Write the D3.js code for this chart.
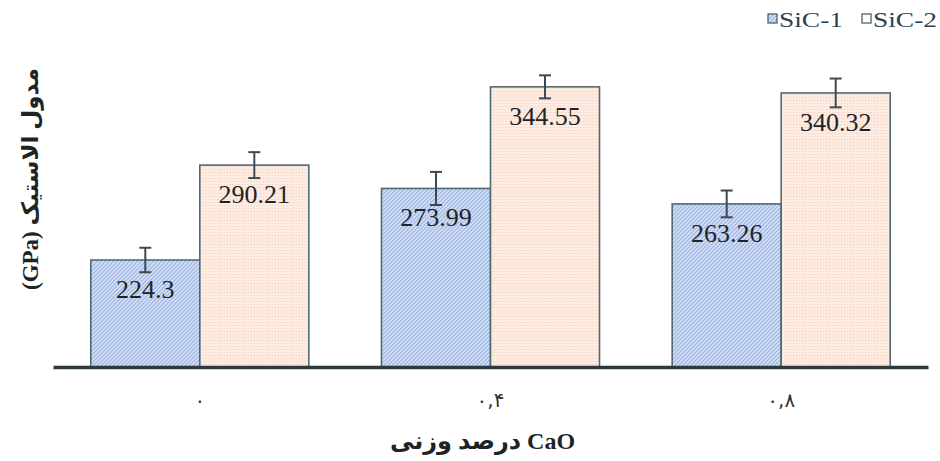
<!DOCTYPE html>
<html>
<head>
<meta charset="utf-8">
<script src="https://cdn.jsdelivr.net/npm/d3@7"></script>
<style>
  body { margin: 0; background: #fff; }
  svg { display: block; }
</style>
</head>
<body>
<svg id="chart"></svg>
<script>
// data
const groups = ['0', '0.4', '0.8'];
const groupLabels = ['۰', '۰,۴', '۰,۸'];
const seriesNames = ['SiC-1', 'SiC-2'];
const sic1 = [224.3, 273.99, 263.26];
const sic2 = [290.21, 344.55, 340.32];
const sic1Err = [8.5, 11.5, 9.3];
const sic2Err = [9, 8, 10];

const width = 940;
const height = 461;
const margin = { top: 7, right: 12, bottom: 94, left: 53 };

const svg = d3.select('#chart')
  .attr('width', width)
  .attr('height', height);

// patterns for the two fills
const defs = svg.append('defs');
const hatch = defs.append('pattern')
  .attr('id', 'hatch')
  .attr('patternUnits', 'userSpaceOnUse')
  .attr('width', 4).attr('height', 4);
hatch.append('rect').attr('width', 4).attr('height', 4).attr('fill', '#e2eaf8');
hatch.append('path')
  .attr('d', 'M-1,1 l2,-2 M0,4 l4,-4 M3,5 l2,-2')
  .attr('stroke', '#98b2e4')
  .attr('stroke-width', 1.4);

const dots = defs.append('pattern')
  .attr('id', 'dots')
  .attr('patternUnits', 'userSpaceOnUse')
  .attr('width', 3).attr('height', 3);
dots.append('rect').attr('width', 3).attr('height', 3).attr('fill', '#fdeee5');
dots.append('circle').attr('cx', 1.5).attr('cy', 1.5).attr('r', 0.8).attr('fill', '#f8d0bb');

const fills = ['url(#hatch)', 'url(#dots)'];

const x0 = d3.scaleBand()
  .domain(groups)
  .range([margin.left, width - margin.right])
  .paddingInner(0.25)
  .paddingOuter(0.13);

const x1 = d3.scaleBand()
  .domain(seriesNames)
  .range([0, x0.bandwidth()]);

const y = d3.scaleLinear()
  .domain([150, 400])
  .range([height - margin.bottom, margin.top]);

const rows = groups.map((g, i) => ({
  group: g,
  values: [
    { name: 'SiC-1', value: sic1[i], err: sic1Err[i] },
    { name: 'SiC-2', value: sic2[i], err: sic2Err[i] }
  ]
}));

const g = svg.selectAll('.group')
  .data(rows)
  .enter()
  .append('g')
  .attr('transform', d => `translate(${x0(d.group)},0)`);

// bars
g.selectAll('rect')
  .data(d => d.values)
  .enter()
  .append('rect')
  .attr('x', d => x1(d.name))
  .attr('y', d => y(d.value))
  .attr('width', x1.bandwidth())
  .attr('height', d => y(150) - y(d.value))
  .attr('fill', (d, i) => fills[i])
  .attr('stroke', '#506a74')
  .attr('stroke-width', 1.6);

// value labels inside the bars
g.selectAll('.val')
  .data(d => d.values)
  .enter()
  .append('text')
  .attr('x', d => x1(d.name) + x1.bandwidth() / 2)
  .attr('y', d => y(d.value) + 38)
  .attr('text-anchor', 'middle')
  .attr('font-family', 'Liberation Serif, serif')
  .attr('font-size', 26)
  .attr('fill', '#1e2426')
  .text(d => d.value);

// error bars
const eb = g.selectAll('.err')
  .data(d => d.values)
  .enter()
  .append('g')
  .attr('stroke', '#3b4a50')
  .attr('stroke-width', 2);
eb.append('line')
  .attr('x1', d => x1(d.name) + x1.bandwidth() / 2)
  .attr('x2', d => x1(d.name) + x1.bandwidth() / 2)
  .attr('y1', d => y(d.value + d.err))
  .attr('y2', d => y(d.value - d.err));
eb.selectAll('.cap')
  .data(d => [d.value + d.err, d.value - d.err].map(v => ({ v, name: d.name })))
  .enter()
  .append('line')
  .attr('x1', d => x1(d.name) + x1.bandwidth() / 2 - 6)
  .attr('x2', d => x1(d.name) + x1.bandwidth() / 2 + 6)
  .attr('y1', d => y(d.v))
  .attr('y2', d => y(d.v));

// x axis
const xAxis = svg.append('g')
  .attr('transform', `translate(0,${y(150)})`)
  .call(d3.axisBottom(x0).tickSize(0).tickPadding(26).tickFormat((d, i) => groupLabels[i]));
xAxis.select('.domain')
  .attr('stroke', '#2b3a3f')
  .attr('stroke-width', 3.5);
xAxis.selectAll('text')
  .attr('font-family', 'DejaVu Sans, sans-serif')
  .attr('font-size', 20)
  .attr('fill', '#333');

// axis titles
svg.append('text')
  .attr('x', x0('0.4') + x0.bandwidth() / 2 - 8)
  .attr('y', 449)
  .attr('text-anchor', 'middle')
  .attr('font-family', 'Liberation Serif, DejaVu Sans, serif')
  .attr('font-weight', 'bold')
  .attr('font-size', 24)
  .attr('fill', '#1e2426')
  .text('درصد وزنی CaO');

svg.append('text')
  .attr('transform', 'translate(38,179) rotate(-90)')
  .attr('text-anchor', 'middle')
  .attr('font-family', 'Liberation Serif, DejaVu Sans, serif')
  .attr('font-weight', 'bold')
  .attr('font-size', 23)
  .attr('fill', '#1e2426')
  .text('(GPa) مدول الاستیک');

// legend
const legend = svg.append('g').attr('transform', 'translate(768,0)');
const legendX = [0, 94];
seriesNames.forEach((name, i) => {
  const item = legend.append('g').attr('transform', `translate(${legendX[i]},0)`);
  item.append('rect')
    .attr('x', 0).attr('y', 14)
    .attr('width', 9).attr('height', 9)
    .attr('fill', i === 0 ? 'url(#hatch)' : '#fff')
    .attr('stroke', '#4a6470')
    .attr('stroke-width', 1.3);
  item.append('text')
    .attr('x', 11)
    .attr('y', 27)
    .attr('font-family', 'Liberation Serif, serif')
    .attr('font-size', 22)
    .attr('textLength', 64)
    .attr('lengthAdjust', 'spacingAndGlyphs')
    .attr('fill', '#2a4452')
    .text(name);
});
</script>
</body>
</html>
